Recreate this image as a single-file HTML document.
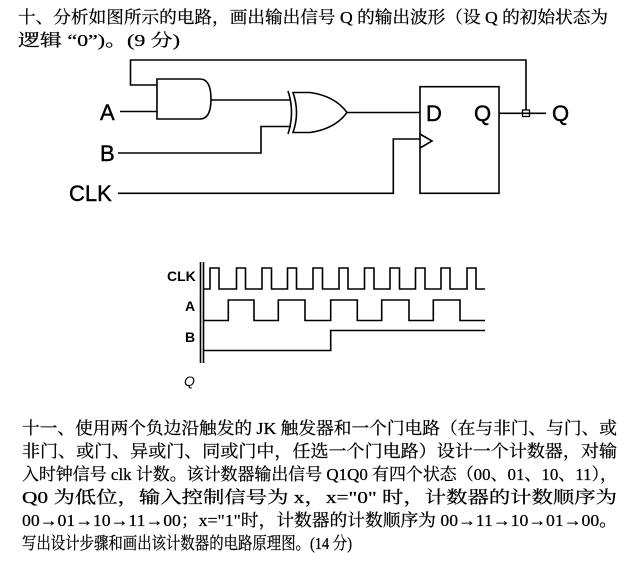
<!DOCTYPE html>
<html><head><meta charset="utf-8"><style>
html,body{margin:0;padding:0;background:#fff;}
svg{display:block;}
.t{font-family:"Liberation Serif","Noto Serif CJK SC","Noto Sans CJK SC",serif;font-size:17px;fill:#000;stroke:#000;stroke-width:0.25;}
.l{font-family:"Liberation Sans",sans-serif;fill:#000;}
</style></head><body>
<svg width="641" height="566" viewBox="0 0 641 566" xmlns="http://www.w3.org/2000/svg">
<g class="t">
<text x="18" y="23" textLength="590" lengthAdjust="spacingAndGlyphs">十、分析如图所示的电路，画出输出信号 Q 的输出波形（设 Q 的初始状态为</text>
<text x="18" y="46" textLength="162" lengthAdjust="spacingAndGlyphs">逻辑 “0”)。(9 分)</text>
<text x="22" y="434" textLength="595" lengthAdjust="spacingAndGlyphs">十一、使用两个负边沿触发的 JK 触发器和一个门电路（在与非门、与门、或</text>
<text x="22" y="457" textLength="595" lengthAdjust="spacingAndGlyphs">非门、或门、异或门、同或门中，任选一个门电路）设计一个计数器，对输</text>
<text x="22" y="480" textLength="595" lengthAdjust="spacingAndGlyphs">入时钟信号 clk 计数。该计数器输出信号 Q1Q0 有四个状态（00、01、10、11），</text>
<text x="22" y="503" textLength="595" lengthAdjust="spacingAndGlyphs">Q0 为低位，输入控制信号为 x，x="0" 时，计数器的计数顺序为</text>
<text x="22" y="526" textLength="595" lengthAdjust="spacingAndGlyphs">00→01→10→11→00；x="1"时，计数器的计数顺序为 00→11→10→01→00。</text>
<text x="22" y="549" textLength="330" lengthAdjust="spacingAndGlyphs">写出设计步骤和画出该计数器的电路原理图。(14 分)</text>
</g>
<g fill="none" stroke="#000" stroke-width="1.6">
<polyline points="157,85 130.5,85 130.5,60 526,60 526,110"/>
<path d="M157,79 L200,79 Q211,79 211,99 Q211,119 200,119 L157,119 Z"/>
<line x1="120" y1="111.5" x2="157" y2="111.5"/>
<line x1="211" y1="100" x2="290" y2="100"/>
<path d="M288,91 Q295,112 288,134"/>
<path d="M293,92.5 L310,92.5 Q335,96 347,112.5 Q335,129 310,132.5 L293,132.5 Q300,112.5 293,92.5 Z"/>
<polyline points="118,153 261,153 261,126.5 291,126.5"/>
<line x1="347" y1="112.5" x2="420" y2="112.5"/>
<polyline points="118,193.3 393.3,193.3 393.3,139 420,139"/>
<rect x="420" y="86.7" width="79" height="106.6"/>
<polyline points="420,134 432,141 420,148"/>
<line x1="499" y1="113.3" x2="546" y2="113.3"/>
<rect x="522.5" y="110" width="7" height="6.5" stroke-width="1.3"/>
</g>
<g class="l" font-size="22" stroke="#000" stroke-width="0.4">
<text x="100" y="120">A</text>
<text x="100" y="161">B</text>
<text x="69" y="201">CLK</text>
<text x="426" y="121">D</text>
<text x="474" y="121">Q</text>
<text x="552" y="121">Q</text>
</g>
<g fill="none" stroke="#000" stroke-width="1.6">
<line x1="200.5" y1="262" x2="200.5" y2="363"/>
<line x1="203.5" y1="262" x2="203.5" y2="363"/>
<path d="M204,289 L210,289 L210,268 L219,268 L219,289 L236.5,289 L236.5,268 L245.5,268 L245.5,289 L262,289 L262,268 L271.5,268 L271.5,289 L287.5,289 L287.5,268 L296.5,268 L296.5,289 L313,289 L313,268 L322.5,268 L322.5,289 L339,289 L339,268 L348,268 L348,289 L364.5,289 L364.5,268 L374,268 L374,289 L390,289 L390,268 L399.5,268 L399.5,289 L415.5,289 L415.5,268 L425,268 L425,289 L441,289 L441,268 L450,268 L450,289 L467,289 L467,268 L476,268 L476,289 L485,289"/>
<path d="M204,320.5 L228.3,320.5 L228.3,300 L254,300 L254,320.5 L278.3,320.5 L278.3,300 L305,300 L305,320.5 L330.7,320.5 L330.7,300 L357.3,300 L357.3,320.5 L381.7,320.5 L381.7,300 L409,300 L409,320.5 L433.3,320.5 L433.3,300 L460,300 L460,320.5 L485,320.5"/>
<path d="M204,350.5 L330.7,350.5 L330.7,330.5 L485,330.5"/>
</g>
<g class="l" font-size="14" font-weight="bold">
<text x="167" y="281">CLK</text>
<text x="185" y="311">A</text>
<text x="185" y="342">B</text>
<text x="184" y="386" font-style="italic" font-weight="normal">Q</text>
</g>
</svg>
</body></html>
